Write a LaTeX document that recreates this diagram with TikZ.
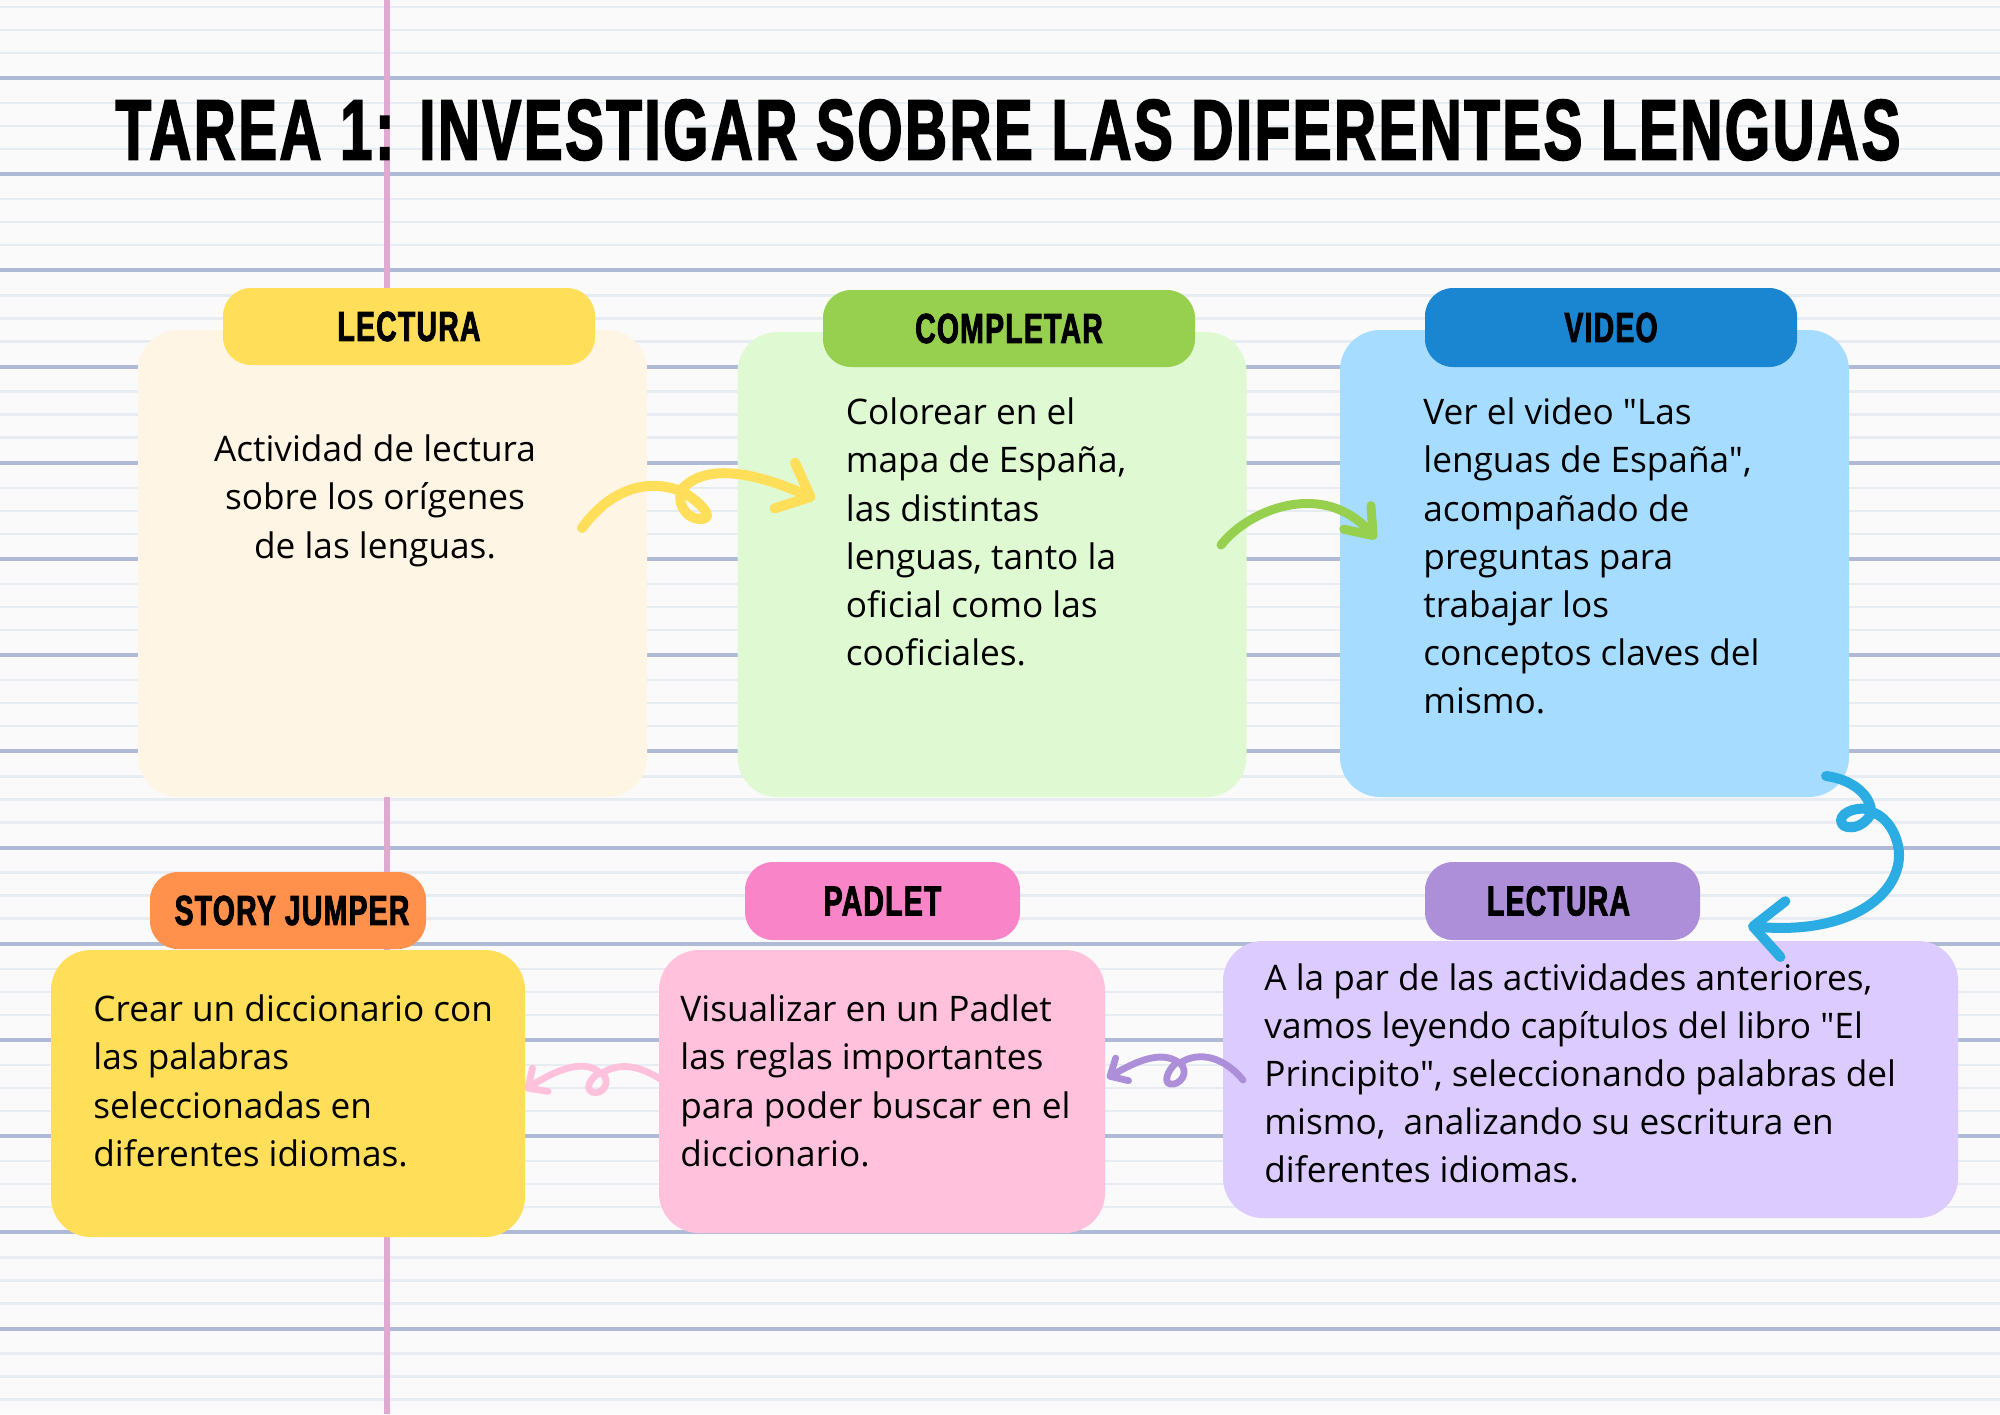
\documentclass[tikz,border=0pt]{standalone}
\usepackage{fontspec}
\newfontfamily\bodyfont{Open Sans}
\newfontfamily\headfont[FakeStretch=0.675,FakeBold=2,LetterSpace=3]{Liberation Sans Bold}
\usetikzlibrary{arrows.meta}
\definecolor{paper}{HTML}{FAFAFA}
\definecolor{ruleS}{HTML}{E6ECF2}
\definecolor{ruleB}{HTML}{AFBAD4}
\definecolor{margen}{HTML}{DFA9D0}
\definecolor{creamC}{HTML}{FFF5E5}
\definecolor{yellowC}{HTML}{FFDE59}
\definecolor{mintC}{HTML}{DFF9D2}
\definecolor{greenC}{HTML}{97D04E}
\definecolor{skyC}{HTML}{A6DCFF}
\definecolor{blueC}{HTML}{1A85D0}
\definecolor{cyanC}{HTML}{2BACE2}
\definecolor{lilacC}{HTML}{DCCBFF}
\definecolor{purpleC}{HTML}{AC8FD8}
\definecolor{rosaC}{HTML}{FFC1DC}
\definecolor{fuchsiaC}{HTML}{F984C8}
\definecolor{orangeC}{HTML}{FF914D}
\begin{document}
\begin{tikzpicture}[x=0.5pt,y=-0.5pt,
card/.style={shape=rectangle,fill=#1,rounded corners=20pt,inner sep=0pt,outer sep=0pt},
chip/.style={shape=rectangle,fill=#1,rounded corners=14pt,inner sep=0pt,outer sep=0pt,minimum height=38.5pt,font=\headfont\fontsize{21}{21}\selectfont},
body/.style={anchor=north west,inner sep=0pt,align=left,font=\bodyfont\fontsize{17.6}{24.1}\selectfont},
ink/.style n args={4}{draw=#1,line width=#2,line cap=round,line join=round,-{Straight Barb[length=#3,width=#4,round]}},
ruleSmall/.style={draw=ruleS,line width=1.25pt},
ruleBig/.style={draw=ruleB,line width=2pt}]
\def\dy{96.2};

\useasboundingbox (0,0) rectangle (2000,1414);
\fill[paper] (0,0) rectangle (2000,1414);

% ruled paper
\foreach \k in {-1,...,13} {
  \draw[ruleSmall] (0,103+\dy*\k) -- (2000,103+\dy*\k);
  \draw[ruleSmall] (0,126+\dy*\k) -- (2000,126+\dy*\k);
  \draw[ruleSmall] (0,149+\dy*\k) -- (2000,149+\dy*\k);
}
\foreach \k in {0,...,13} {
  \draw[ruleBig] (0,78+\dy*\k) -- (2000,78+\dy*\k);
}
\draw[margen,line width=3pt] (387,0) -- (387,1414);

\node[font=\headfont\fontsize{43}{43}\selectfont,inner sep=0pt] (title) at (1008,130) {TAREA 1: INVESTIGAR SOBRE LAS DIFERENTES LENGUAS};

% top row
\node[card=creamC,minimum width=254.5pt,minimum height=233.5pt] (cardA) at (392.5,563.5) {};
\node[chip=yellowC,minimum width=186pt] (chipA) at (409,326.5) {LECTURA};
\node[body,align=center,anchor=north] (textA) at (375,434.5) {Actividad de lectura\\sobre los orígenes\\de las lenguas.};

\node[card=mintC,minimum width=254.5pt,minimum height=232.5pt] (cardB) at (992,564.5) {};
\node[chip=greenC,minimum width=186pt] (chipB) at (1009,328.5) {COMPLETAR};
\node[body] (textB) at (845.5,397.5) {Colorear en el\\mapa de España,\\las distintas\\lenguas, tanto la\\oficial como las\\cooficiales.};

\node[card=skyC,minimum width=254.5pt,minimum height=233.5pt] (cardC) at (1594.5,563.5) {};
\node[chip=blueC,minimum width=186pt,minimum height=39.5pt] (chipC) at (1611,327.5) {VIDEO};
\node[body] (textC) at (1423,397.5) {Ver el video "Las\\lenguas de España",\\acompañado de\\preguntas para\\trabajar los\\conceptos claves del\\mismo.};

% bottom row
\node[card=yellowC,minimum width=237pt,minimum height=143.5pt] (cardF) at (288,1093.5) {};
\node[chip=orangeC,minimum width=138pt] (chipF) at (288,910.5) {\kern4pt STORY JUMPER};
\node[body] (textF) at (93,994.5) {Crear un diccionario con\\las palabras\\seleccionadas en\\diferentes idiomas.};

\node[card=rosaC,minimum width=223pt,minimum height=141.5pt] (cardE) at (882,1091.5) {};
\node[chip=fuchsiaC,minimum width=137.5pt,minimum height=39pt] (chipE) at (882.5,901) {PADLET};
\node[body] (textE) at (680,994.5) {Visualizar en un Padlet\\las reglas importantes\\para poder buscar en el\\diccionario.};

\node[card=lilacC,minimum width=367.5pt,minimum height=138.5pt] (cardD) at (1590.5,1079.5) {};
\node[chip=purpleC,minimum width=137.5pt,minimum height=39pt] (chipD) at (1562.5,901) {LECTURA\kern4pt};
\node[body] (textD) at (1264,963) {A la par de las actividades anteriores,\\vamos leyendo capítulos del libro "El\\Principito", seleccionando palabras del\\mismo,\ \ analizando su escritura en\\diferentes idiomas.};

% arrows
\coordinate (yellowS) at (582,528);
\coordinate (yellowE) at (815,499);
\draw[ink={yellowC}{5pt}{14pt}{25pt}] (yellowS) .. controls (612,487) and (650,478) .. (683,492) .. controls (697,500) and (718,519) .. (700,519) .. controls (685,519) and (675,500) .. (683,488) .. controls (705,465) and (750,470) .. (yellowE);

\coordinate (greenS) at (1221,545);
\coordinate (greenE) at (1376,539);
\draw[ink={greenC}{4.5pt}{12pt}{18pt}] (greenS) .. controls (1250,508) and (1325,480) .. (greenE);

\coordinate (cyanS) at (1826,776);
\coordinate (cyanE) at (1748,926);
\draw[ink={cyanC}{5pt}{15pt}{28pt}] (cyanS) .. controls (1850,779) and (1869,793) .. (1871,810) .. controls (1860,806) and (1842,811) .. (1841,820) .. controls (1840,830) and (1862,832) .. (1872,812) .. controls (1890,818) and (1899,840) .. (1899,855) .. controls (1899,895) and (1850,935) .. (cyanE);

\coordinate (purpleS) at (1243,1080);
\coordinate (purpleE) at (1107,1078);
\draw[ink={purpleC}{3.4pt}{7pt}{13pt}] (purpleS) .. controls (1225,1058) and (1200,1050) .. (1180,1063) .. controls (1190,1072) and (1180,1086) .. (1170,1084) .. controls (1162,1082) and (1170,1066) .. (1178,1062) .. controls (1160,1050) and (1135,1062) .. (purpleE);

\coordinate (pinkS) at (665,1082);
\coordinate (pinkE) at (525,1090);
\draw[ink={rosaC}{3.4pt}{7.5pt}{14pt}] (pinkS) .. controls (640,1065) and (620,1062) .. (602,1073) .. controls (612,1082) and (602,1096) .. (592,1092) .. controls (584,1088) and (592,1076) .. (600,1073) .. controls (585,1058) and (555,1070) .. (pinkE);
\end{tikzpicture}
\end{document}
